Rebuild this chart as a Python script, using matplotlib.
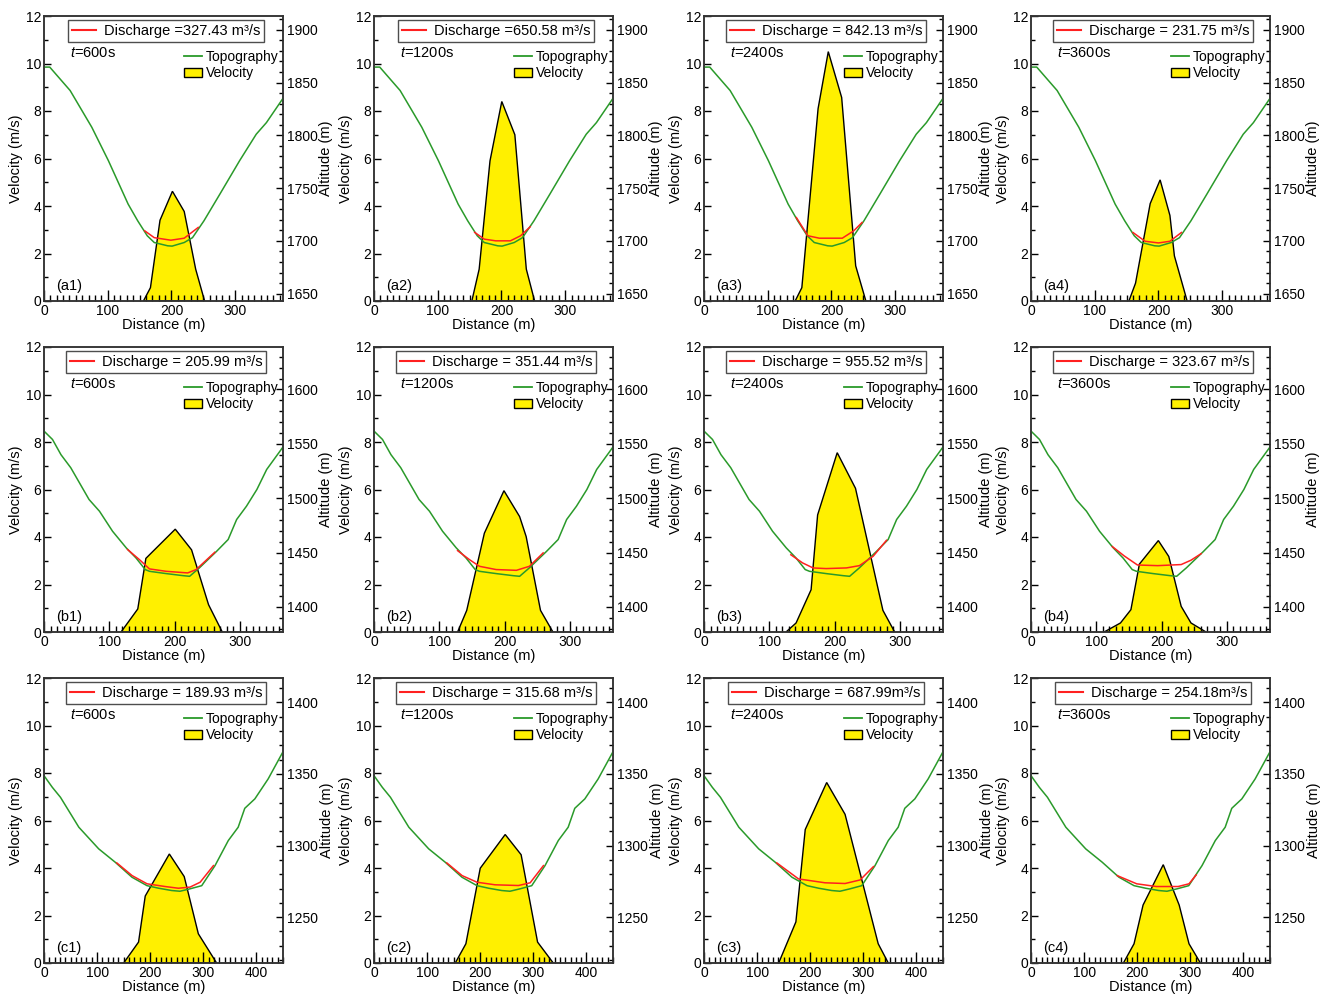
import matplotlib.pyplot as plt
from matplotlib.lines import Line2D
from matplotlib.patches import Patch
from matplotlib.ticker import MultipleLocator

plt.rcParams['font.family'] = ['Liberation Sans', 'DejaVu Sans']
plt.rcParams['mathtext.fontset'] = 'custom'
plt.rcParams['mathtext.rm'] = 'Liberation Sans'
plt.rcParams['mathtext.it'] = 'Liberation Sans:italic'

# topografia de cada seccion (distancia m, altitud m)
topo_a_x = [0, 9, 41, 75, 101, 132, 147, 162, 173, 194, 201, 220, 233, 251, 276, 307, 333, 349, 375]
topo_a_z = [1864.6, 1864.6, 1842.4, 1807.6, 1776, 1734.8, 1719, 1704.8, 1698.4, 1695.3, 1695,
            1698.4, 1703, 1719, 1744.3, 1776, 1801, 1812, 1835]
topo_b_x = [0, 13, 26, 41, 69, 85, 105, 126, 141, 155, 161.5, 187, 213, 223, 238, 264, 282,
            295, 310, 326, 341, 367]
topo_b_z = [1561.7, 1554, 1540, 1528, 1498.8, 1488, 1469.6, 1454.3, 1445, 1434.4, 1432.8,
            1430.7, 1428.8, 1428.2, 1436, 1451, 1462, 1480.4, 1492.6, 1508, 1526.4, 1547.9]
topo_c_x = [0, 15.6, 31, 65.6, 103, 134, 165.6, 194, 216, 240.6, 256, 275, 297, 322, 347,
            365.6, 378, 397, 422, 450]
topo_c_z = [1348.8, 1340.7, 1333.7, 1312.8, 1297.7, 1288.4, 1277.9, 1272, 1270.2, 1268.6,
            1268.1, 1269.8, 1272, 1286, 1303.5, 1312.8, 1326, 1332.6, 1346.5, 1365.5]

# velocidades (distancia m, velocidad m/s)
vel_a1_x = [156, 167, 182, 201.5, 220, 238, 252]
vel_a1_v = [0, 0.56, 3.4, 4.62, 3.77, 1.34, 0]
vel_a2_x = [153.5, 165, 182, 200.5, 221, 239, 252]
vel_a2_v = [0, 1.34, 5.9, 8.4, 7.0, 1.34, 0]
vel_a3_x = [143, 153.5, 179, 195, 216, 238, 254]
vel_a3_v = [0, 0.56, 8.1, 10.5, 8.57, 1.48, 0]
vel_a4_x = [153.6, 164, 187, 202.6, 218, 225, 245]
vel_a4_v = [0, 0.75, 4.1, 5.1, 3.6, 1.9, 0]
vel_b1_x = [118, 143.6, 156, 201, 226, 252, 273]
vel_b1_v = [0, 0.97, 3.1, 4.33, 3.46, 1.15, 0]
vel_b2_x = [128, 142, 169, 199, 223, 233, 255, 274]
vel_b2_v = [0, 0.91, 4.16, 5.95, 4.86, 4.02, 0.91, 0]
vel_b3_x = [125.6, 141, 164, 174, 204, 232, 274, 292]
vel_b3_v = [0, 0.38, 1.78, 4.93, 7.55, 6.05, 0.91, 0]
vel_b4_x = [112, 137, 153, 166, 195, 211, 230, 245, 268]
vel_b4_v = [0, 0.38, 0.94, 2.86, 3.85, 3.18, 1.08, 0.38, 0]
vel_c1_x = [150, 178, 190.6, 236, 264, 290.6, 325]
vel_c1_v = [0, 0.88, 2.82, 4.59, 3.64, 1.23, 0]
vel_c2_x = [153, 173, 200, 247, 277, 308, 337.5]
vel_c2_v = [0, 0.81, 3.99, 5.41, 4.56, 0.88, 0]
vel_c3_x = [140.6, 173, 190.6, 231, 265.6, 328, 347]
vel_c3_v = [0, 1.73, 5.62, 7.6, 6.26, 0.81, 0]
vel_c4_x = [174, 194, 211, 249, 279, 297.5, 319]
vel_c4_v = [0, 0.81, 2.44, 4.14, 2.44, 0.81, 0]

# superficie del flujo (linea roja, altitud m)
sup_a1_x = [158, 173, 199, 220, 242]
sup_a1_z = [1709.5, 1703, 1700.6, 1702.5, 1712.7]
sup_a2_x = [158, 173, 191, 214, 230, 245]
sup_a2_z = [1708, 1701.6, 1700, 1700, 1704.8, 1713.3]
sup_a3_x = [145, 163, 181, 217, 235, 248]
sup_a3_z = [1722, 1704.8, 1702.5, 1702.5, 1709.5, 1717.4]
sup_a4_x = [160, 179, 200, 218, 236]
sup_a4_z = [1707.9, 1699.6, 1698, 1699.6, 1707.9]
sup_b1_x = [128, 146, 161.5, 187, 220, 233, 261.5]
sup_b1_z = [1452.8, 1443.6, 1435, 1432.8, 1431.3, 1434.4, 1450.3]
sup_b2_x = [128, 146, 161.5, 187, 218, 238, 259]
sup_b2_z = [1451.8, 1443.6, 1437.4, 1434.4, 1433.7, 1437.4, 1449.7]
sup_b3_x = [133, 151, 167, 187, 218, 238, 259, 279.5]
sup_b3_z = [1448, 1440.5, 1435.9, 1435.3, 1435.9, 1438, 1446.6, 1461.3]
sup_b4_x = [124.6, 142.6, 163, 194, 230, 245, 260.5]
sup_b4_z = [1455.5, 1447, 1438.6, 1438, 1439, 1443, 1449]
sup_c1_x = [137, 166, 194, 228, 253, 275, 294, 319]
sup_c1_z = [1287.9, 1279, 1273.3, 1271.4, 1270.2, 1271, 1274.4, 1286]
sup_c2_x = [137, 166, 194, 228, 272, 294, 319]
sup_c2_z = [1287.9, 1279, 1274.4, 1272.6, 1272.1, 1274, 1286]
sup_c3_x = [137, 178, 228, 265.6, 294, 319]
sup_c3_z = [1287.9, 1276.7, 1274, 1273.5, 1276, 1285.3]
sup_c4_x = [162.5, 199, 236, 277, 297.5, 311]
sup_c4_z = [1279, 1273.3, 1271.4, 1271.4, 1273.3, 1279.5]

caudales = [['Discharge =327.43 m³/s', 'Discharge =650.58 m³/s', 'Discharge = 842.13 m³/s', 'Discharge = 231.75 m³/s'],
            ['Discharge = 205.99 m³/s', 'Discharge = 351.44 m³/s', 'Discharge = 955.52 m³/s', 'Discharge = 323.67 m³/s'],
            ['Discharge = 189.93 m³/s', 'Discharge = 315.68 m³/s', 'Discharge = 687.99m³/s', 'Discharge = 254.18m³/s']]
tiempos = ['600s', '1200s', '2400s', '3600s']
filas = ['a', 'b', 'c']

topos = [(topo_a_x, topo_a_z), (topo_b_x, topo_b_z), (topo_c_x, topo_c_z)]
vels = [[(vel_a1_x, vel_a1_v), (vel_a2_x, vel_a2_v), (vel_a3_x, vel_a3_v), (vel_a4_x, vel_a4_v)],
        [(vel_b1_x, vel_b1_v), (vel_b2_x, vel_b2_v), (vel_b3_x, vel_b3_v), (vel_b4_x, vel_b4_v)],
        [(vel_c1_x, vel_c1_v), (vel_c2_x, vel_c2_v), (vel_c3_x, vel_c3_v), (vel_c4_x, vel_c4_v)]]
sups = [[(sup_a1_x, sup_a1_z), (sup_a2_x, sup_a2_z), (sup_a3_x, sup_a3_z), (sup_a4_x, sup_a4_z)],
        [(sup_b1_x, sup_b1_z), (sup_b2_x, sup_b2_z), (sup_b3_x, sup_b3_z), (sup_b4_x, sup_b4_z)],
        [(sup_c1_x, sup_c1_z), (sup_c2_x, sup_c2_z), (sup_c3_x, sup_c3_z), (sup_c4_x, sup_c4_z)]]

xmax = [375, 366, 450]
alt_lim = [(1643, 1913), (1377, 1639), (1218, 1417)]
alt_major = [50, 50, 50]

amarillo = '#fff000'
verde = '#2a9a2a'
rojo = '#ff2020'
borde = '#333333'

W, H = 1333, 998
fig = plt.figure(figsize=(W / 100, H / 100), dpi=100)

lefts = [44, 374, 704, 1031]
tops = [16, 347, 678]
aw, ah = 239, 285

for i in range(3):
    for j in range(4):
        ax = fig.add_axes([lefts[j] / W, 1 - (tops[i] + ah) / H, aw / W, ah / H])
        ax2 = ax.twinx()

        vx, vv = vels[i][j]
        ax.fill(vx, vv, facecolor=amarillo, edgecolor='black', linewidth=1.0)
        tx, tz = topos[i]
        ax2.plot(tx, tz, color=verde, linewidth=1.1)
        sx, sz = sups[i][j]
        ax2.plot(sx, sz, color=rojo, linewidth=1.1)

        ax.set_xlim(0, xmax[i])
        ax.set_ylim(0, 12)
        ax2.set_ylim(*alt_lim[i])

        ax.xaxis.set_major_locator(MultipleLocator(100))
        ax.xaxis.set_minor_locator(MultipleLocator(10))
        ax.yaxis.set_major_locator(MultipleLocator(2))
        ax.yaxis.set_minor_locator(MultipleLocator(1))
        ax2.yaxis.set_major_locator(MultipleLocator(alt_major[i]))
        ax2.yaxis.set_minor_locator(MultipleLocator(10))

        ax.tick_params(axis='x', which='major', direction='in', length=8, width=1, top=False,
                       labelsize=10, pad=2)
        ax.tick_params(axis='x', which='minor', direction='in', length=4, width=1, top=False)
        ax.tick_params(axis='y', which='major', direction='in', length=5, width=1, right=False,
                       labelsize=10, pad=2)
        ax.tick_params(axis='y', which='minor', direction='in', length=3, width=1, right=False)
        ax2.tick_params(axis='y', which='major', direction='in', length=5, width=1, labelsize=10, pad=3)
        ax2.tick_params(axis='y', which='minor', direction='in', length=3, width=1)

        for a in (ax, ax2):
            for sp in a.spines.values():
                sp.set_color(borde)
                sp.set_linewidth(1.1)

        ax.set_xlabel('Distance (m)', fontsize=10.5, labelpad=0)
        ax.set_ylabel('Velocity (m/s)', fontsize=10.5, labelpad=2)
        ax2.set_ylabel('Altitude (m)', fontsize=10.5, labelpad=1)

        ax.text(0.05, 0.04, '(%s%d)' % (filas[i], j + 1), transform=ax.transAxes, fontsize=10.5)
        ax.text(0.11, 0.855, '$t$=' + tiempos[j], transform=ax.transAxes, fontsize=10.5)

        leg1 = ax2.legend(handles=[Line2D([], [], color=rojo, linewidth=1.5)], labels=[caudales[i][j]],
                          loc='upper center', bbox_to_anchor=(0.51, 0.985), fontsize=10.5,
                          frameon=True, fancybox=False, handlelength=1.7, handletextpad=0.5,
                          borderpad=0.25, borderaxespad=0)
        leg1.get_frame().set_edgecolor('#222222')
        leg1.get_frame().set_linewidth(1.0)
        ax2.add_artist(leg1)
        ax2.legend(handles=[Line2D([], [], color=verde, linewidth=1.3),
                            Patch(facecolor=amarillo, edgecolor='black', linewidth=1.0)],
                   labels=['Topography', 'Velocity'], loc='upper right', bbox_to_anchor=(1.0, 0.895),
                   frameon=False, fontsize=10, handlelength=1.3, handleheight=0.6,
                   handletextpad=0.3, labelspacing=0.15, borderpad=0.2, borderaxespad=0.1)

plt.savefig('out.png', dpi=100)
